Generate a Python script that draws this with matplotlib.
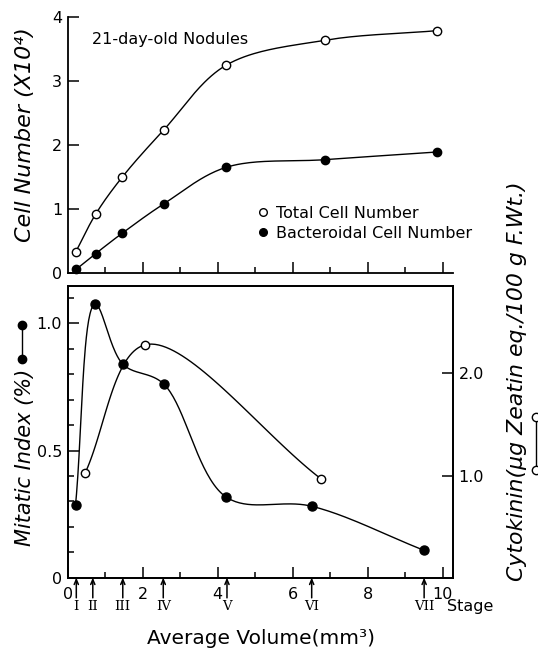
import numpy as np
import matplotlib.pyplot as plt
from matplotlib.lines import Line2D

plt.rcParams['font.family'] = 'DejaVu Sans'

# top panel: cell number (x10^4) vs average volume (mm3)
vol_cells = [0.22, 0.75, 1.46, 2.57, 4.23, 6.87, 9.86]
total_cells = [0.33, 0.92, 1.50, 2.24, 3.25, 3.64, 3.79]
bact_cells = [0.05, 0.30, 0.62, 1.08, 1.65, 1.77, 1.89]

# bottom panel: mitotic index (%) and cytokinin
vol_mitotic = [0.21, 0.73, 1.47, 2.56, 4.23, 6.51, 9.50]
mitotic = [0.287, 1.075, 0.84, 0.762, 0.317, 0.281, 0.108]
vol_cyto = [0.46, 2.07, 6.75]
cytokinin = [1.02, 2.28, 0.97]

stage_vol = [0.23, 0.67, 1.47, 2.55, 4.25, 6.51, 9.51]
stage_names = ['I', 'II', 'III', 'IV', 'V', 'VI', 'VII']


def smooth(ax, x, y, n=40, alpha=0.5):
    # centripetal catmull-rom through the points, done in display space
    pts = ax.transData.transform(np.column_stack([x, y]))
    p = np.vstack([2 * pts[0] - pts[1], pts, 2 * pts[-1] - pts[-2]])
    out = []
    for i in range(1, len(p) - 2):
        p0, p1, p2, p3 = p[i - 1], p[i], p[i + 1], p[i + 2]
        t0 = 0.0
        t1 = t0 + np.linalg.norm(p1 - p0) ** alpha
        t2 = t1 + np.linalg.norm(p2 - p1) ** alpha
        t3 = t2 + np.linalg.norm(p3 - p2) ** alpha
        t = np.linspace(t1, t2, n)[:, None]
        a1 = (t1 - t) / (t1 - t0) * p0 + (t - t0) / (t1 - t0) * p1
        a2 = (t2 - t) / (t2 - t1) * p1 + (t - t1) / (t2 - t1) * p2
        a3 = (t3 - t) / (t3 - t2) * p2 + (t - t2) / (t3 - t2) * p3
        b1 = (t2 - t) / (t2 - t0) * a1 + (t - t0) / (t2 - t0) * a2
        b2 = (t3 - t) / (t3 - t1) * a2 + (t - t1) / (t3 - t1) * a3
        out.append((t2 - t) / (t2 - t1) * b1 + (t - t1) / (t2 - t1) * b2)
    d = ax.transData.inverted().transform(np.vstack(out))
    return d[:, 0], d[:, 1]


fig = plt.figure(figsize=(5.38, 6.48), dpi=100)
ax1 = fig.add_axes([0.1258, 0.5792, 0.7162, 0.3942])
ax2 = fig.add_axes([0.1258, 0.1085, 0.7162, 0.4501])
ax3 = ax2.twinx()

tick_fs = 11.5
lw_sp = 1.3

# ---- top panel
ax1.set_xlim(0, 10.28)
ax1.set_ylim(0, 4)
ax1.spines['top'].set_visible(False)
ax1.spines['right'].set_visible(False)
for s in ax1.spines.values():
    s.set_linewidth(lw_sp)
ax1.set_xticks([2, 4, 6, 8, 10])
ax1.set_xticks([1, 3, 5, 7, 9], minor=True)
ax1.set_yticks([0, 1, 2, 3, 4])
ax1.tick_params(axis='x', which='both', direction='in', labelbottom=False, width=1.1)
ax1.tick_params(axis='x', which='major', length=8)
ax1.tick_params(axis='x', which='minor', length=4)
ax1.tick_params(axis='y', direction='in', length=8, width=1.1, labelsize=tick_fs, pad=4)

for y, face in [(total_cells, 'white'), (bact_cells, 'black')]:
    sx, sy = smooth(ax1, vol_cells, y)
    ax1.plot(sx, sy, color='black', lw=1.0, clip_on=False)
    ax1.plot(vol_cells, y, 'o', ms=6, mfc=face, mec='black', mew=1.0,
             clip_on=False, zorder=3)

ax1.text(0.062, 0.914, '21-day-old Nodules', transform=ax1.transAxes,
         fontsize=11.5, va='center', ha='left')

handles = [Line2D([], [], marker='o', ls='none', ms=5.5, mfc='white', mec='black'),
           Line2D([], [], marker='o', ls='none', ms=5.5, mfc='black', mec='black')]
ax1.legend(handles, ['Total Cell Number', 'Bacteroidal Cell Number'],
           loc='center left', bbox_to_anchor=(0.485, 0.193), frameon=False,
           fontsize=11.5, handlelength=1.0, handletextpad=0.35,
           borderpad=0, borderaxespad=0, labelspacing=0.3)

ax1.set_ylabel('Cell Number (X10⁴)', fontsize=16, fontstyle='italic')
ax1.yaxis.set_label_coords(-0.111, 0.539)
ax1.yaxis.label.set_va('center')

# ---- bottom panel
ax2.set_xlim(0, 10.28)
ax2.set_ylim(0, 1.147)
ax3.set_ylim(0, 2.855)
for a in (ax2, ax3):
    for s in a.spines.values():
        s.set_linewidth(lw_sp)
ax2.set_xticks([0, 2, 4, 6, 8, 10])
ax2.set_xticklabels(['0', '2', '4', '6', '8', '10'])
ax2.set_xticks([1, 3, 5, 7, 9], minor=True)
ax2.set_yticks([0, 0.5, 1.0])
ax2.set_yticklabels(['0', '0.5', '1.0'])
ax2.set_yticks(np.arange(1, 12) * 0.1, minor=True)
ax2.tick_params(axis='x', which='both', direction='in', width=1.1, labelsize=tick_fs, pad=7)
ax2.tick_params(axis='x', which='major', length=8)
ax2.tick_params(axis='x', which='minor', length=4)
ax2.tick_params(axis='y', which='both', direction='in', width=1.1, labelsize=tick_fs, pad=4)
ax2.tick_params(axis='y', which='major', length=8)
ax2.tick_params(axis='y', which='minor', length=4)
ax3.set_yticks([1.0, 2.0])
ax3.set_yticklabels(['1.0', '2.0'])
ax3.tick_params(axis='y', direction='in', length=8, width=1.1, labelsize=tick_fs, pad=4)

sx, sy = smooth(ax2, vol_mitotic, mitotic)
ax2.plot(sx, sy, color='black', lw=1.0)
ax2.plot(vol_mitotic, mitotic, 'o', ms=6.5, mfc='black', mec='black', zorder=3)

sx, sy = smooth(ax3, vol_cyto, cytokinin)
ax3.plot(sx, sy, color='black', lw=1.0)
ax3.plot(vol_cyto, cytokinin, 'o', ms=6, mfc='white', mec='black', mew=1.0, zorder=3)

for s, name in zip(stage_vol, stage_names):
    ax2.annotate('', xy=(s, 0), xytext=(0, -14.5), textcoords='offset points',
                 arrowprops=dict(arrowstyle='->,head_length=0.35,head_width=0.15',
                                 lw=1.1, color='black', shrinkA=0, shrinkB=0))
    ax2.annotate(name, xy=(s, 0), xytext=(0, -16), textcoords='offset points',
                 ha='center', va='top', fontsize=9.5, family='DejaVu Serif')
ax2.text(0.984, -0.1, 'Stage', transform=ax2.transAxes, ha='left', va='center',
         fontsize=11.5)

ax2.set_xlabel('Average Volume(mm³)', fontsize=14.5)
ax2.xaxis.set_label_coords(0.503, -0.207)
ax2.xaxis.label.set_va('center')

ax2.set_ylabel('Mitatic Index (%)', fontsize=15, fontstyle='italic')
ax2.yaxis.set_label_coords(-0.111, 0.414)
ax2.yaxis.label.set_va('center')

ax3.set_ylabel('Cytokinin(μg Zeatin eq./100 g F.Wt.)', fontsize=15.8, fontstyle='italic')
ax3.yaxis.set_label_coords(1.166, 0.674)
ax3.yaxis.label.set_va('center')

# series keys next to the axis labels
fig.add_artist(Line2D([0.041, 0.041], [0.4985, 0.446], transform=fig.transFigure,
                      color='black', lw=1.0, marker='o', ms=6, mfc='black', mec='black'))
fig.add_artist(Line2D([0.9963, 0.9963], [0.3565, 0.2747], transform=fig.transFigure,
                      color='black', lw=1.0, marker='o', ms=6, mfc='white', mec='black'))

fig.savefig('out.png', dpi=100)
